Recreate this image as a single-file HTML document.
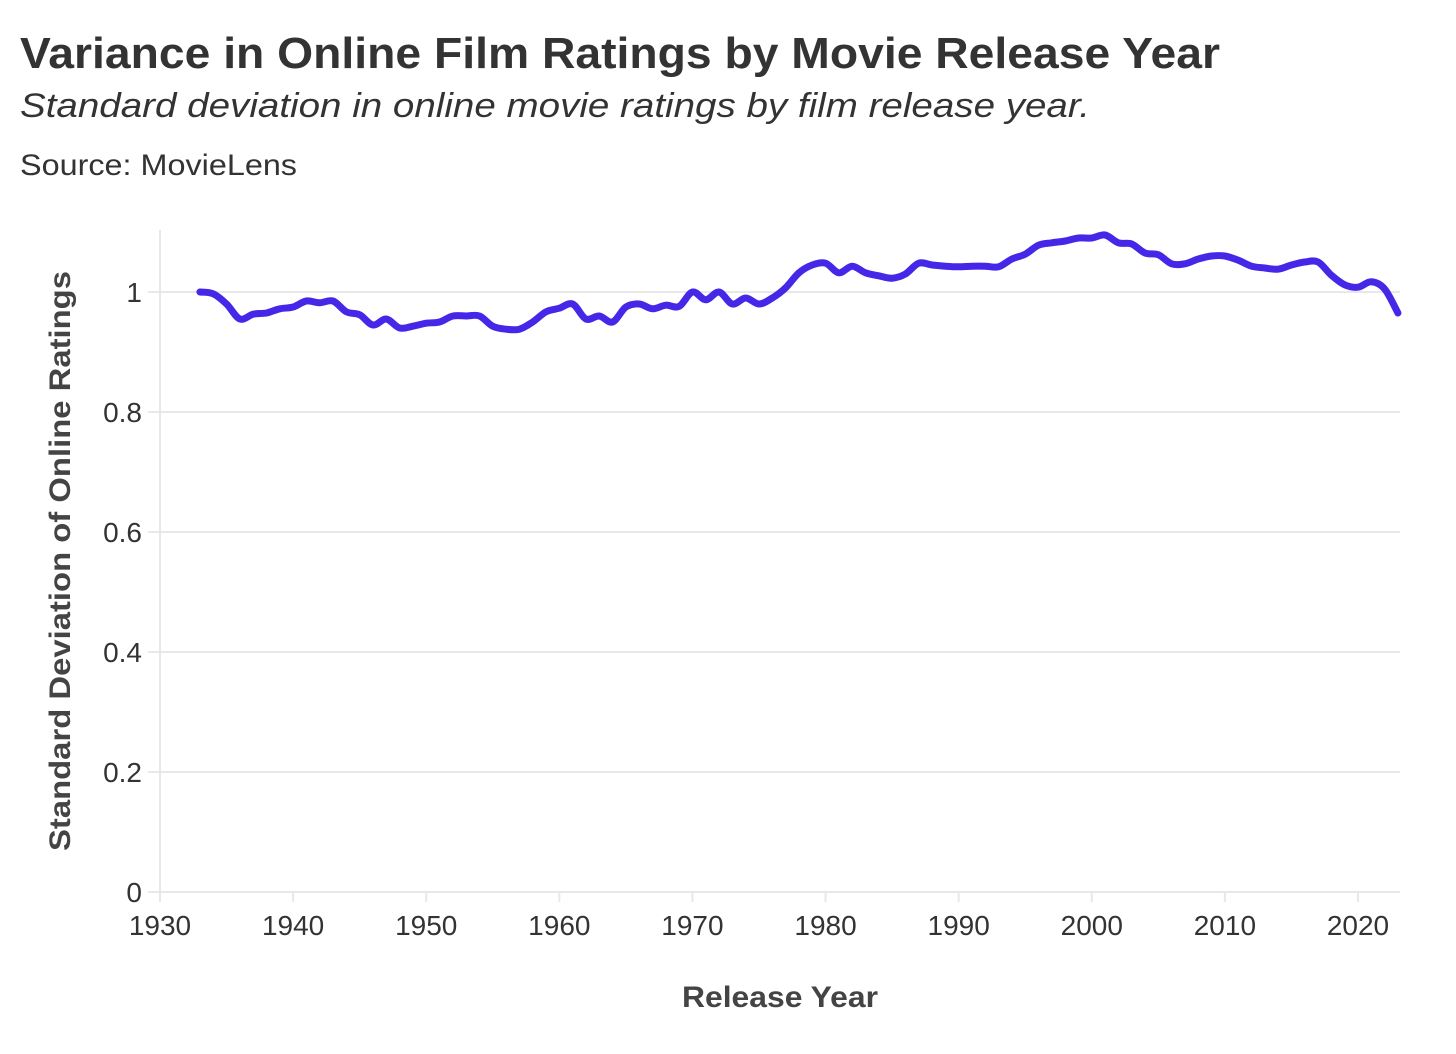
<!DOCTYPE html>
<html><head><meta charset="utf-8"><style>
html,body{margin:0;padding:0;background:#fff;}
svg{display:block;font-family:"Liberation Sans",sans-serif;}
</style></head><body>
<svg id="chart" width="1456" height="1054" viewBox="0 0 1456 1054">
<text x="20" y="68" font-size="44" font-weight="bold" fill="#333" textLength="1200" lengthAdjust="spacingAndGlyphs">Variance in Online Film Ratings by Movie Release Year</text>
<text x="20" y="117" font-size="34" font-style="italic" fill="#333" textLength="1070" lengthAdjust="spacingAndGlyphs">Standard deviation in online movie ratings by film release year.</text>
<text x="20" y="175" font-size="30" fill="#333" textLength="277" lengthAdjust="spacingAndGlyphs">Source: MovieLens</text>
<g id="grid"></g>
<g id="axes"></g>
<path id="line" fill="none" stroke="#4527e8" stroke-width="7" stroke-linejoin="round" stroke-linecap="round"></path>
<text x="780" y="1007" font-size="30" font-weight="bold" fill="#444" text-anchor="middle" textLength="196" lengthAdjust="spacingAndGlyphs">Release Year</text>
<text transform="translate(70,561) rotate(-90)" font-size="30" font-weight="bold" fill="#444" text-anchor="middle" textLength="580" lengthAdjust="spacingAndGlyphs">Standard Deviation of Online Ratings</text>
</svg>
<script>
const years = [];
for (let y = 1933; y <= 2023; y++) years.push(y);
const values = [1.00,0.997,0.98,0.955,0.963,0.965,0.972,0.975,0.985,0.982,0.985,0.967,0.962,0.945,0.955,0.94,0.943,0.948,0.95,0.96,0.96,0.96,0.943,0.938,0.938,0.95,0.967,0.973,0.98,0.955,0.96,0.95,0.975,0.98,0.972,0.978,0.976,1.0,0.987,1.0,0.98,0.99,0.98,0.99,1.007,1.032,1.045,1.048,1.032,1.043,1.032,1.027,1.023,1.03,1.048,1.045,1.043,1.042,1.043,1.043,1.042,1.055,1.063,1.078,1.082,1.085,1.09,1.09,1.095,1.082,1.08,1.065,1.062,1.047,1.047,1.055,1.06,1.06,1.053,1.043,1.04,1.038,1.045,1.05,1.05,1.028,1.012,1.008,1.017,1.005,0.965];
const yTicks = [0,0.2,0.4,0.6,0.8,1];
const yTickLabels = ["0","0.2","0.4","0.6","0.8","1"];
const xTicks = [1930,1940,1950,1960,1970,1980,1990,2000,2010,2020];

const NS = "http://www.w3.org/2000/svg";
const X = yr => 160 + (yr - 1930) * (1358 - 160) / 90;
const Y = v => 892 - v * 600;
const grid = document.getElementById('grid'), axes = document.getElementById('axes');
function mk(tag, attrs, parent){const e=document.createElementNS(NS,tag);for(const k in attrs)e.setAttribute(k,attrs[k]);parent.appendChild(e);return e;}

yTicks.forEach((t,i)=>{
  const l = mk('line',{x1:148,x2:1400,y1:Y(t),y2:Y(t),stroke:'#e8e8e8','stroke-width':2},grid);
  
  
  const tx = mk('text',{x:142,y:Y(t)+10,'font-size':28,fill:'#333','text-anchor':'end'},axes);
  
  
  tx.textContent = yTickLabels[i];
});
const ax = mk('line',{x1:160,x2:160,y1:230,y2:892,stroke:'#e8e8e8','stroke-width':2},axes);


xTicks.forEach(t=>{
  const tk = mk('line',{x1:X(t),x2:X(t),y1:892,y2:902,stroke:'#e8e8e8','stroke-width':2},axes);
  
  
  const tx = mk('text',{x:X(t),y:935,'font-size':28,fill:'#333','text-anchor':'middle'},axes);
  
  
  tx.textContent = t;
});
// smooth line (catmull-rom)
const pts = years.map((yr,i)=>[X(yr),Y(values[i])]);
let d = `M${pts[0][0]},${pts[0][1]}`;
for(let i=0;i<pts.length-1;i++){
  const p0=pts[Math.max(0,i-1)],p1=pts[i],p2=pts[i+1],p3=pts[Math.min(pts.length-1,i+2)];
  const c1=[p1[0]+(p2[0]-p0[0])/6,p1[1]+(p2[1]-p0[1])/6];
  const c2=[p2[0]-(p3[0]-p1[0])/6,p2[1]-(p3[1]-p1[1])/6];
  d+=` C${c1[0]},${c1[1]} ${c2[0]},${c2[1]} ${p2[0]},${p2[1]}`;
}
document.getElementById('line').setAttribute('d',d);
</script>
</body></html>
